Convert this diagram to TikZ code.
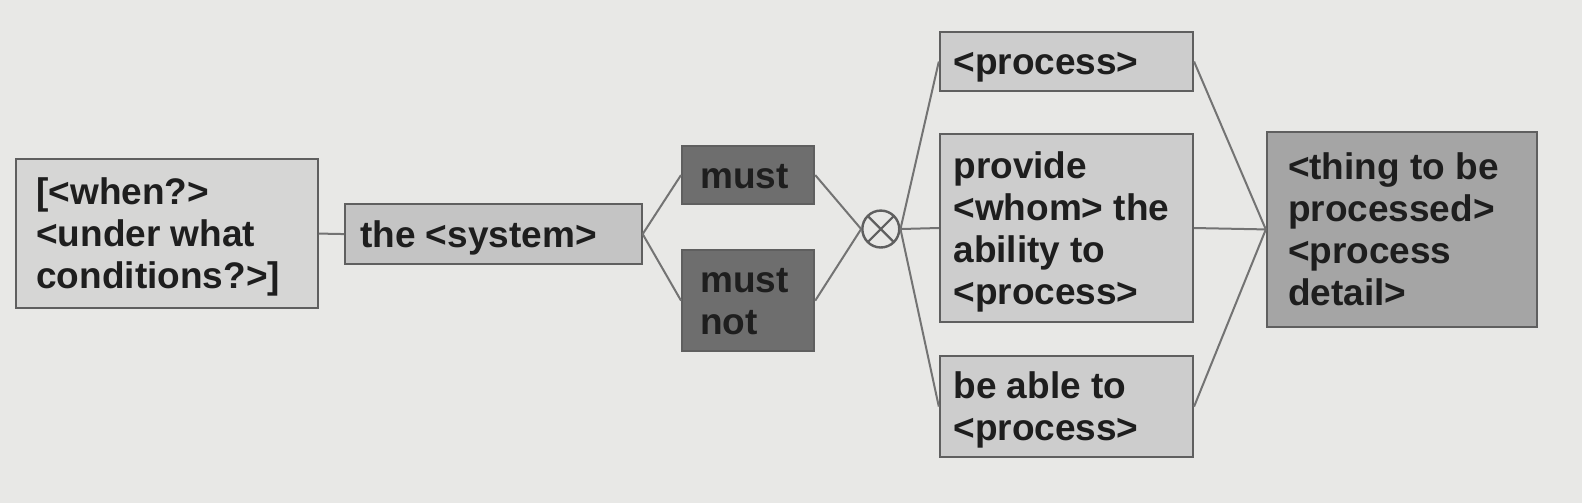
\documentclass[tikz,border=0pt]{standalone}
\usepackage{fontspec}
\setmainfont{Liberation Sans}
\definecolor{bg}{RGB}{232,232,230}
\definecolor{bordc}{RGB}{95,95,95}
\definecolor{linec}{RGB}{115,115,115}
\definecolor{txt}{RGB}{30,30,30}
\definecolor{fcond}{RGB}{214,214,213}
\definecolor{fsys}{RGB}{196,196,196}
\definecolor{fmust}{RGB}{110,110,110}
\definecolor{fproc}{RGB}{205,205,205}
\definecolor{fthing}{RGB}{165,165,165}
\newdimen\pxu
\pxu=0.50446pt
\begin{document}
\begin{tikzpicture}[x=\pxu,y=-\pxu,
  box/.style={draw=bordc, line width=1pt, inner sep=0pt, text=txt, align=flush left,
    font=\fontsize{18.5}{21}\selectfont\bfseries,
    execute at begin node={\rule{0pt}{17pt}},
    execute at end node={\rule[-4pt]{0pt}{0pt}}},
  conn/.style={draw=linec, line width=1pt},
  xcirc/.style={circle, draw=bordc, line width=1.2pt, fill=bg, minimum size=36.6\pxu, inner sep=0pt,
    path picture={\draw[bordc, line width=1.1pt]
      ([shift={(-45:18.3\pxu)}]path picture bounding box.center) -- ([shift={(135:18.3\pxu)}]path picture bounding box.center)
      ([shift={(45:18.3\pxu)}]path picture bounding box.center) -- ([shift={(-135:18.3\pxu)}]path picture bounding box.center);}}
]
\fill[bg] (0,0) rectangle (1568,498.56);
\useasboundingbox (0,0) rectangle (1568,498.56);

\node[box, fill=fcond, minimum width=299\pxu, minimum height=147\pxu, text width=259\pxu] (cond) at (165.5,231.5)
  {[<when?>\\<under what\\conditions?>]};
\node[box, fill=fsys, minimum width=294\pxu, minimum height=60\pxu, text width=264\pxu] (sys) at (489,232)
  {the <system>};
\node[box, fill=fmust, minimum width=131\pxu, minimum height=57\pxu, text width=95\pxu] (must) at (741.5,173.5)
  {must};
\node[box, fill=fmust, minimum width=131\pxu, minimum height=100\pxu, text width=95\pxu] (mustnot) at (741.5,298)
  {must\\not};
\node[xcirc] (x) at (873,227) {};
\node[box, fill=fproc, minimum width=251\pxu, minimum height=58\pxu, text width=224\pxu] (p1) at (1057,61)
  {<process>};
\node[box, fill=fproc, minimum width=251\pxu, minimum height=187\pxu, text width=224\pxu] (p2) at (1057,226)
  {provide\\<whom> the\\ability to\\<process>};
\node[box, fill=fproc, minimum width=251\pxu, minimum height=100\pxu, text width=224\pxu] (p3) at (1057,403)
  {be able to\\<process>};
\node[box, fill=fthing, minimum width=268\pxu, minimum height=193\pxu, text width=226\pxu] (thing) at (1389.6,227.4)
  {<thing to be\\processed>\\<process\\detail>};

\draw[conn] (cond.east) -- (sys.west);
\draw[conn] (sys.east) -- (must.west);
\draw[conn] (sys.east) -- (mustnot.west);
\draw[conn] (must.east) -- (x.west);
\draw[conn] (mustnot.east) -- (x.west);
\draw[conn] (x.east) -- (p1.west);
\draw[conn] (x.east) -- (p2.west);
\draw[conn] (x.east) -- (p3.west);
\draw[conn] (p1.east) -- (thing.west);
\draw[conn] (p2.east) -- (thing.west);
\draw[conn] (p3.east) -- (thing.west);
\end{tikzpicture}
\end{document}
